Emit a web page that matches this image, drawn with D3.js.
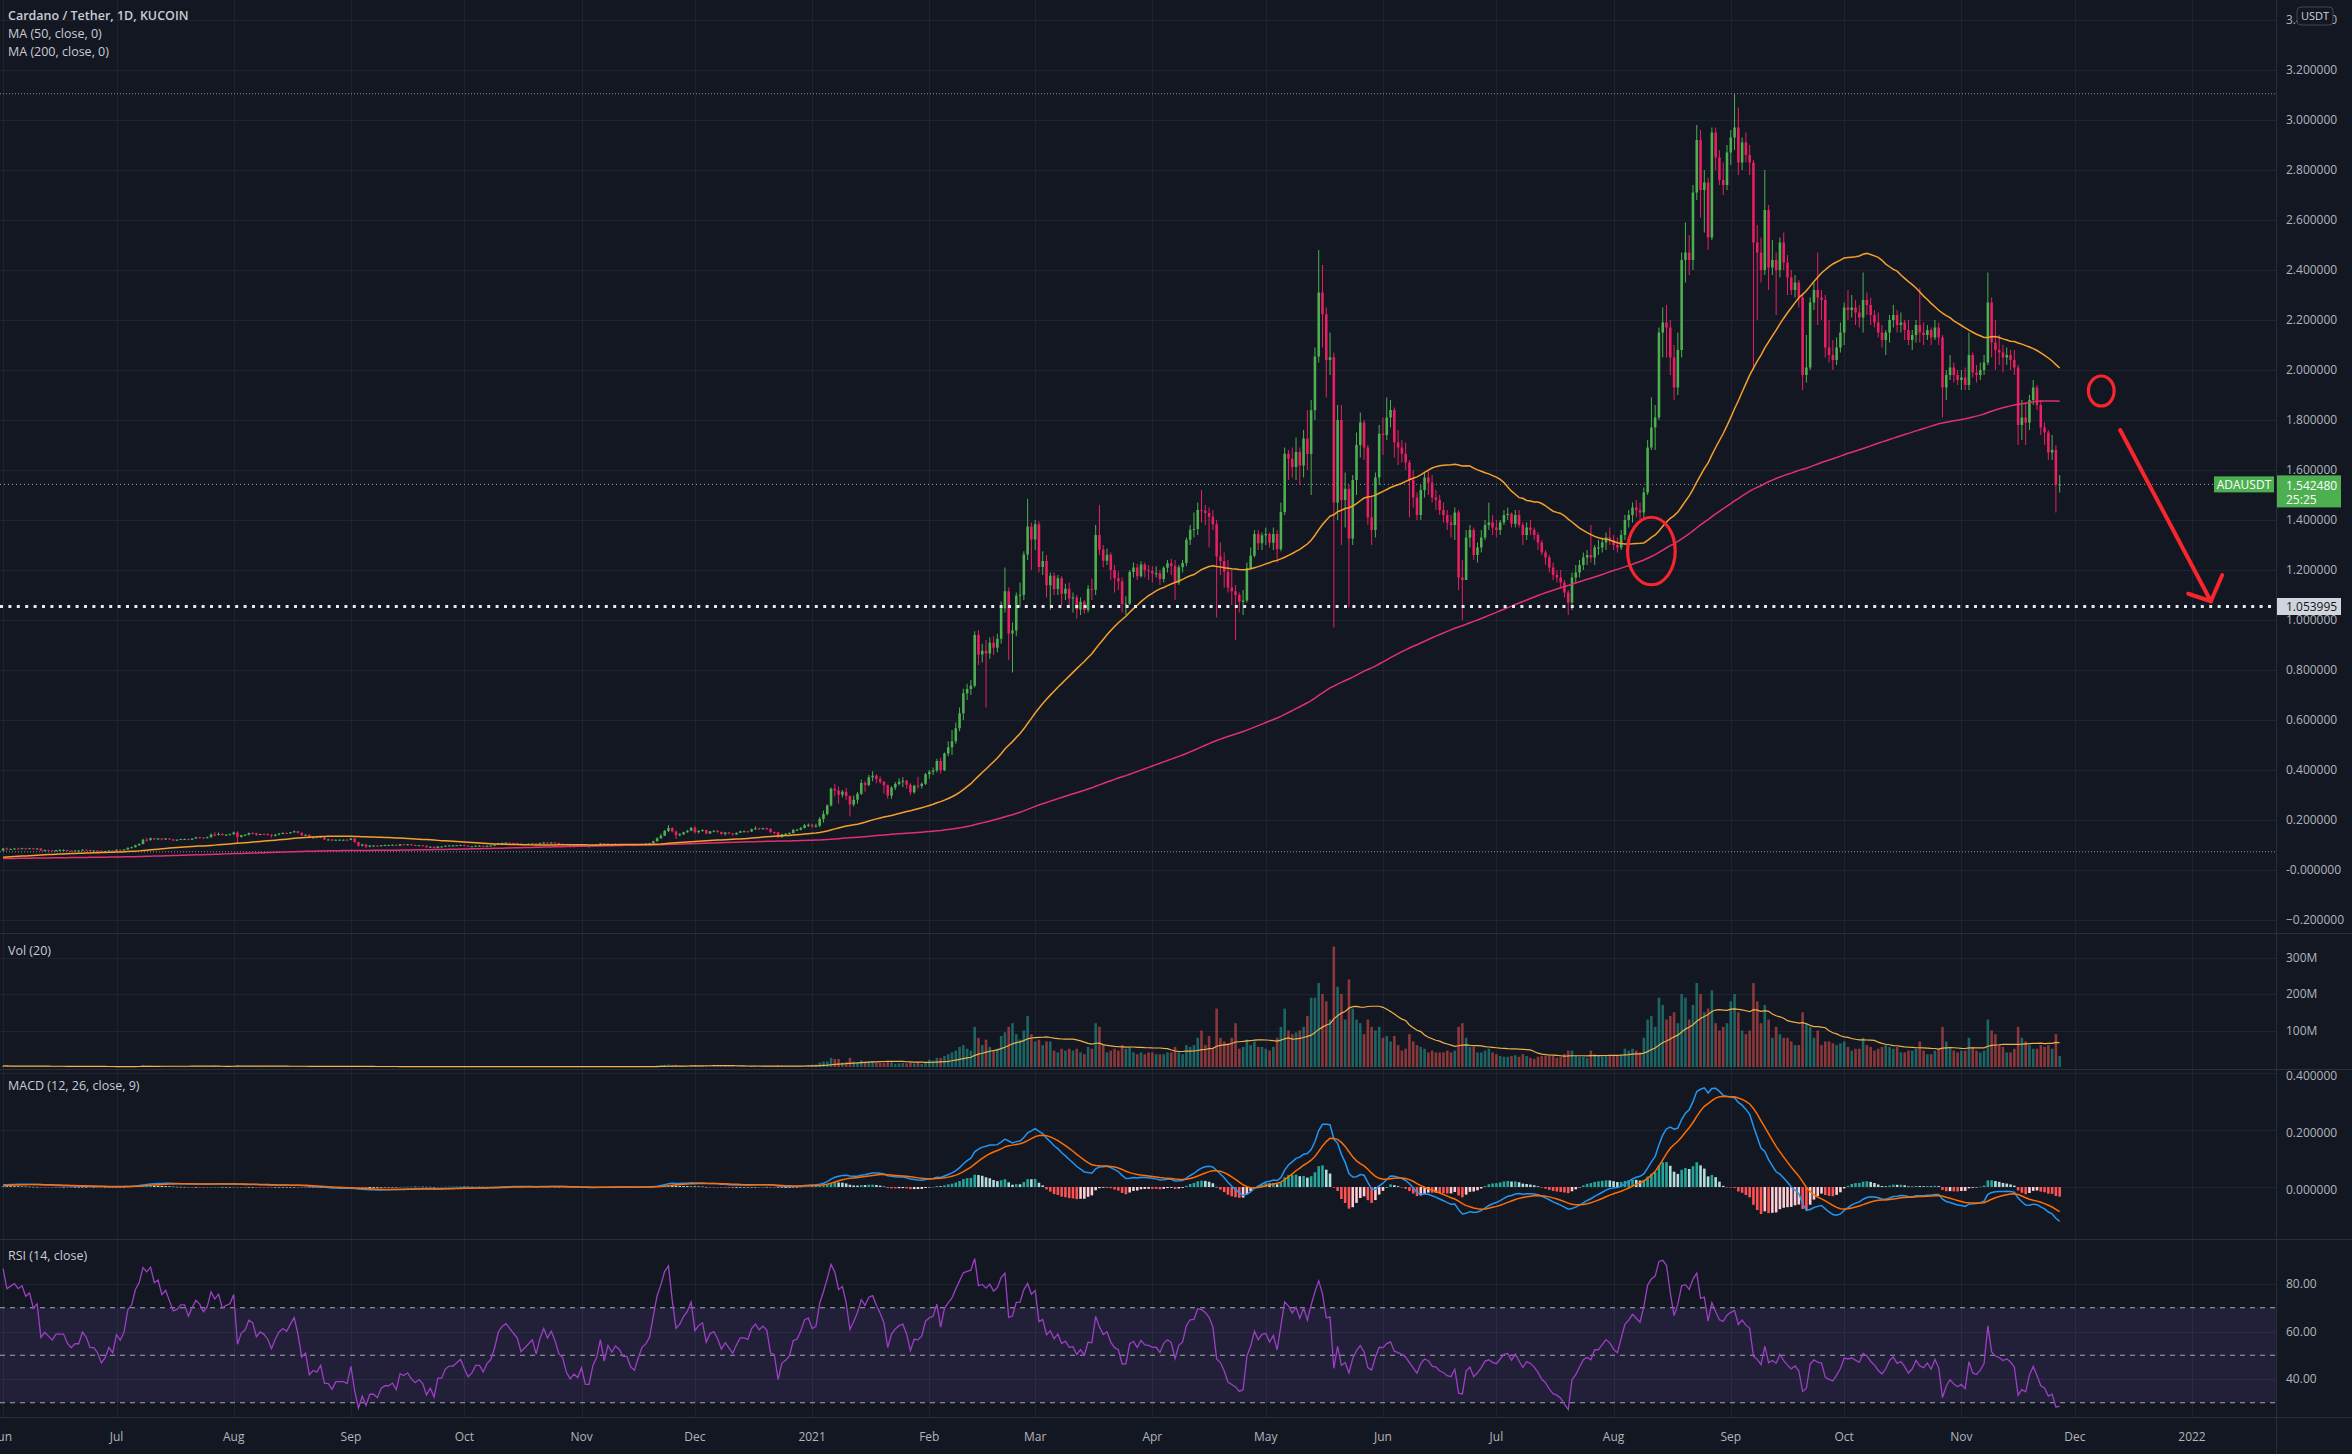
<!DOCTYPE html>
<html><head><meta charset="utf-8">
<script src="https://cdn.jsdelivr.net/npm/d3@7/dist/d3.min.js"></script>
<style>html,body{margin:0;padding:0;background:#131722;overflow:hidden}svg{display:block}</style>
</head><body>
<svg id="c" width="2352" height="1454"></svg>
<script>
// ---------------- DATA ----------------
const title = "Cardano / Tether, 1D, KUCOIN";
const ma50Label = "MA (50, close, 0)";
const ma200Label = "MA (200, close, 0)";
const volLabel = "Vol (20)";
const macdLabel = "MACD (12, 26, close, 9)";
const rsiLabel = "RSI (14, close)";
const symbolLabel = "ADAUSDT";
const countdown = "25:25";
const currency = "USDT";
const supportLevel = 1.053995;

// daily closes before the first drawn candle (warm-up for the moving averages), from 2019-11-14
const warmupStart = "2019-11-14";
const warmupCloses = [
0.044,0.043,0.043,0.043,0.042,0.041,0.041,0.040,0.037,0.038,0.036,0.037,0.037,0.038,0.039,0.038,0.038,
0.038,0.038,0.037,0.037,0.038,0.039,0.038,0.037,0.037,0.037,0.036,0.036,0.036,0.035,0.034,0.033,0.031,0.035,0.034,0.034,0.034,0.034,0.033,0.033,0.033,0.033,0.033,0.034,0.034,0.033,0.033,
0.034,0.033,0.035,0.035,0.035,0.037,0.038,0.037,0.038,0.040,0.040,0.041,0.042,0.046,0.045,0.044,0.047,0.048,0.046,0.045,0.046,0.046,0.044,0.045,0.045,0.046,0.049,0.052,0.053,0.055,0.053,
0.054,0.055,0.057,0.058,0.062,0.064,0.063,0.066,0.069,0.070,0.073,0.077,0.078,0.083,0.085,0.078,0.081,0.083,0.076,0.076,0.077,0.074,0.075,0.068,0.065,0.060,0.059,0.057,0.054,
0.056,0.055,0.055,0.053,0.054,0.055,0.052,0.046,0.046,0.045,0.042,0.027,0.031,0.030,0.028,0.026,0.028,0.028,0.033,0.031,0.031,0.028,0.031,0.032,0.031,0.032,0.031,0.030,0.028,0.030,0.030,
0.030,0.030,0.031,0.032,0.032,0.035,0.034,0.035,0.036,0.035,0.035,0.036,0.036,0.037,0.037,0.038,0.039,0.040,0.039,0.038,0.039,0.040,0.041,0.042,0.042,0.043,0.044,0.045,0.048,0.051,
0.052,0.051,0.052,0.052,0.053,0.055,0.055,0.053,0.052,0.049,0.049,0.050,0.051,0.053,0.052,0.051,0.051,0.053,0.055,0.054,0.053,0.054,0.053,0.053,0.054,0.055,0.058,0.065,0.071,0.079,0.077
];

// drawn daily candles from 2020-06-01: [close, high, low, volume in millions]
const candleStart = "2020-06-01";
const jun2020 = [
[0.086,0.088,0.077,3],[0.082,0.090,0.079,3],[0.084,0.086,0.080,2],[0.086,0.088,0.082,2],[0.085,0.089,0.083,2],
[0.087,0.089,0.084,2],[0.085,0.088,0.082,2],[0.087,0.089,0.084,2],[0.084,0.088,0.082,2],[0.086,0.087,0.082,2],
[0.078,0.087,0.075,3],[0.080,0.082,0.076,2],[0.079,0.081,0.077,1],[0.078,0.080,0.076,1],[0.080,0.081,0.073,2],
[0.080,0.083,0.078,2],[0.080,0.083,0.079,1],[0.078,0.081,0.077,1],[0.077,0.079,0.075,1],[0.078,0.079,0.076,1],
[0.078,0.080,0.077,1],[0.081,0.083,0.077,2],[0.080,0.082,0.079,1],[0.078,0.082,0.076,2],[0.078,0.079,0.075,1],
[0.077,0.079,0.076,1],[0.075,0.078,0.074,1],[0.076,0.077,0.074,1],[0.078,0.079,0.075,1],[0.077,0.079,0.076,1]];
const jul2020 = [
[0.081,0.083,0.076,1],[0.080,0.082,0.078,1],[0.082,0.084,0.079,1],[0.089,0.090,0.081,2],[0.091,0.094,0.087,2],
[0.099,0.101,0.090,3],[0.104,0.107,0.097,3],[0.121,0.125,0.103,5],[0.120,0.129,0.114,4],[0.127,0.130,0.117,4],
[0.123,0.128,0.120,2],[0.126,0.127,0.121,2],[0.122,0.128,0.119,2],[0.126,0.128,0.120,2],[0.123,0.127,0.121,2],
[0.120,0.124,0.115,2],[0.121,0.123,0.118,1],[0.124,0.125,0.120,1],[0.124,0.126,0.122,1],[0.121,0.125,0.119,1],
[0.126,0.127,0.120,2],[0.131,0.133,0.125,2],[0.130,0.133,0.127,2],[0.128,0.131,0.126,1],[0.131,0.134,0.127,2],
[0.142,0.146,0.130,3],[0.140,0.151,0.135,4],[0.144,0.150,0.138,3],[0.140,0.147,0.137,2],[0.142,0.143,0.136,2],
[0.143,0.146,0.139,2]];
const aug2020 = [
[0.150,0.154,0.141,3],[0.132,0.155,0.105,5],[0.139,0.141,0.130,2],[0.141,0.144,0.136,2],[0.148,0.150,0.139,2],
[0.147,0.151,0.143,2],[0.141,0.149,0.136,2],[0.144,0.145,0.139,1],[0.143,0.146,0.140,1],[0.141,0.147,0.139,2],
[0.137,0.143,0.130,2],[0.142,0.144,0.134,2],[0.146,0.148,0.139,2],[0.148,0.151,0.143,2],[0.147,0.150,0.144,1],
[0.151,0.152,0.145,2],[0.155,0.158,0.149,2],[0.149,0.157,0.146,2],[0.139,0.150,0.135,2],[0.141,0.143,0.137,1],
[0.129,0.142,0.127,2],[0.131,0.133,0.126,1],[0.130,0.133,0.128,1],[0.133,0.135,0.129,1],[0.122,0.134,0.120,2],
[0.122,0.125,0.119,1],[0.118,0.124,0.115,1],[0.121,0.122,0.116,1],[0.121,0.123,0.119,1],[0.121,0.122,0.118,1],
[0.120,0.123,0.118,1]];
const sep2020 = [
[0.126,0.128,0.119,2],[0.112,0.127,0.108,2],[0.097,0.113,0.093,3],[0.102,0.105,0.094,2],[0.093,0.103,0.088,2],
[0.098,0.099,0.091,1],[0.098,0.100,0.094,1],[0.095,0.099,0.092,1],[0.099,0.100,0.094,1],[0.100,0.102,0.097,1],
[0.100,0.101,0.097,1],[0.101,0.102,0.098,1],[0.097,0.102,0.096,1],[0.103,0.104,0.096,1],[0.102,0.105,0.100,1],
[0.103,0.104,0.099,1],[0.100,0.104,0.098,1],[0.098,0.101,0.097,1],[0.099,0.100,0.097,1],[0.097,0.100,0.095,1],
[0.091,0.098,0.089,1],[0.093,0.094,0.089,1],[0.088,0.094,0.086,1],[0.094,0.095,0.087,1],[0.094,0.096,0.092,1],
[0.097,0.098,0.093,1],[0.098,0.099,0.095,1],[0.098,0.101,0.096,1],[0.099,0.100,0.096,1],[0.100,0.101,0.098,1]];
const oct2020 = [
[0.097,0.101,0.095,1],[0.094,0.098,0.092,1],[0.095,0.096,0.093,1],[0.097,0.098,0.094,1],[0.097,0.099,0.095,1],
[0.095,0.098,0.093,1],[0.097,0.098,0.094,1],[0.098,0.099,0.095,1],[0.101,0.102,0.097,1],[0.106,0.108,0.100,1],
[0.108,0.110,0.105,1],[0.109,0.111,0.106,1],[0.108,0.110,0.106,1],[0.107,0.109,0.105,1],[0.106,0.108,0.104,1],
[0.103,0.107,0.101,1],[0.104,0.105,0.102,1],[0.105,0.106,0.103,1],[0.106,0.107,0.104,1],[0.103,0.107,0.101,1],
[0.107,0.110,0.102,1],[0.110,0.112,0.106,1],[0.108,0.111,0.106,1],[0.110,0.111,0.107,1],[0.108,0.111,0.106,1],
[0.105,0.109,0.103,1],[0.104,0.106,0.102,1],[0.100,0.105,0.098,1],[0.098,0.101,0.095,1],[0.099,0.100,0.096,1],
[0.098,0.100,0.097,1]];
const nov2020 = [
[0.100,0.101,0.097,1],[0.095,0.101,0.093,1],[0.095,0.097,0.093,1],[0.099,0.100,0.094,1],[0.101,0.103,0.098,1],
[0.106,0.108,0.100,2],[0.100,0.107,0.098,1],[0.105,0.106,0.099,1],[0.103,0.106,0.101,1],[0.105,0.106,0.102,1],
[0.104,0.107,0.103,1],[0.102,0.105,0.100,1],[0.102,0.104,0.100,1],[0.099,0.103,0.098,1],[0.098,0.100,0.097,1],
[0.101,0.103,0.097,1],[0.104,0.105,0.100,1],[0.105,0.108,0.101,2],[0.107,0.109,0.104,1],[0.115,0.117,0.106,2],
[0.127,0.131,0.114,4],[0.137,0.145,0.125,5],[0.156,0.160,0.136,6],[0.168,0.180,0.152,7],[0.154,0.171,0.150,5],
[0.139,0.158,0.124,6],[0.143,0.148,0.135,3],[0.151,0.153,0.140,3],[0.157,0.160,0.149,3],[0.169,0.172,0.155,4]];
const dec2020 = [
[0.151,0.175,0.145,5],[0.157,0.159,0.146,3],[0.160,0.163,0.153,3],[0.146,0.161,0.143,3],[0.155,0.156,0.144,2],
[0.157,0.159,0.151,2],[0.152,0.158,0.149,2],[0.144,0.154,0.141,2],[0.150,0.151,0.138,3],[0.146,0.151,0.143,2],
[0.142,0.147,0.138,2],[0.149,0.150,0.141,2],[0.155,0.157,0.148,2],[0.155,0.158,0.151,2],[0.154,0.157,0.150,2],
[0.163,0.166,0.152,3],[0.167,0.175,0.160,4],[0.164,0.169,0.159,3],[0.167,0.169,0.162,2],[0.165,0.170,0.160,2],
[0.152,0.167,0.148,3],[0.151,0.154,0.143,3],[0.132,0.152,0.128,5],[0.143,0.145,0.129,3],[0.145,0.148,0.140,2],
[0.148,0.151,0.142,2],[0.160,0.165,0.146,3],[0.161,0.165,0.156,3],[0.168,0.172,0.158,3],[0.179,0.184,0.166,4],
[0.181,0.186,0.172,4]];
const jan2021 = [
[0.175,0.185,0.168,6],[0.177,0.185,0.170,7],[0.204,0.212,0.172,12],[0.224,0.238,0.190,15],[0.258,0.263,0.218,15],
[0.325,0.330,0.254,25],[0.318,0.344,0.294,22],[0.301,0.334,0.265,22],[0.313,0.320,0.290,12],[0.296,0.329,0.280,14],
[0.262,0.298,0.215,25],[0.281,0.298,0.254,15],[0.305,0.312,0.265,13],[0.348,0.362,0.300,18],[0.340,0.356,0.313,14],
[0.371,0.380,0.335,15],[0.377,0.395,0.355,16],[0.364,0.383,0.347,12],[0.353,0.374,0.345,11],[0.339,0.355,0.305,12],
[0.297,0.342,0.285,15],[0.330,0.335,0.285,13],[0.344,0.352,0.320,9],[0.353,0.367,0.338,10],[0.357,0.371,0.331,11],
[0.341,0.360,0.325,10],[0.311,0.347,0.300,12],[0.337,0.341,0.305,10],[0.336,0.373,0.325,14],[0.345,0.350,0.326,8],
[0.383,0.388,0.340,13]];
const feb2021 = [
[0.393,0.400,0.365,20],[0.398,0.410,0.380,18],[0.436,0.445,0.390,25],[0.399,0.449,0.385,25],[0.466,0.470,0.395,30],
[0.491,0.515,0.455,35],[0.515,0.560,0.460,40],[0.567,0.590,0.505,45],[0.627,0.650,0.555,55],[0.707,0.725,0.600,60],
[0.724,0.745,0.680,50],[0.737,0.760,0.700,45],[0.940,0.955,0.730,110],[0.862,0.960,0.820,80],[0.877,0.905,0.830,60],
[0.866,0.920,0.650,75],[0.909,0.930,0.845,55],[0.889,0.935,0.860,45],[0.925,0.945,0.870,50],[1.047,1.075,0.905,85],
[1.115,1.210,1.030,95],[0.946,1.130,0.840,110],[0.958,0.990,0.790,120],[1.097,1.110,0.935,90],[1.101,1.150,1.050,75],
[1.262,1.275,1.080,100],[1.374,1.485,1.240,140],[1.322,1.390,1.200,90]];
const mar2021 = [
[1.383,1.400,1.280,70],[1.212,1.395,1.190,75],[1.236,1.275,1.180,60],[1.139,1.260,1.090,70],[1.177,1.190,1.040,70],
[1.124,1.190,1.100,45],[1.167,1.180,1.100,40],[1.105,1.175,1.060,50],[1.125,1.145,1.080,45],[1.086,1.150,1.060,50],
[1.090,1.110,1.030,45],[1.042,1.100,1.005,50],[1.073,1.090,1.020,40],[1.040,1.080,1.025,35],[1.125,1.140,1.030,55],
[1.121,1.165,1.080,50],[1.340,1.380,1.100,120],[1.282,1.460,1.260,110],[1.237,1.300,1.210,60],[1.261,1.285,1.220,40],
[1.200,1.270,1.160,45],[1.167,1.220,1.110,50],[1.155,1.195,1.120,45],[1.064,1.170,1.030,60],[1.065,1.095,1.020,50],
[1.192,1.200,1.060,55],[1.210,1.230,1.170,40],[1.175,1.225,1.160,35],[1.222,1.235,1.170,40],[1.199,1.230,1.170,35],
[1.196,1.220,1.160,40]];
const apr2021 = [
[1.186,1.215,1.150,40],[1.187,1.215,1.170,35],[1.164,1.200,1.140,35],[1.209,1.215,1.150,35],[1.227,1.240,1.190,40],
[1.216,1.245,1.180,40],[1.149,1.240,1.080,55],[1.211,1.220,1.140,40],[1.228,1.240,1.190,35],[1.321,1.330,1.215,60],
[1.361,1.380,1.300,55],[1.364,1.430,1.330,60],[1.440,1.470,1.340,80],[1.437,1.520,1.390,100],[1.428,1.460,1.380,60],
[1.413,1.450,1.290,85],[1.383,1.440,1.360,50],[1.254,1.400,1.010,160],[1.236,1.310,1.180,80],[1.193,1.270,1.130,70],
[1.130,1.240,1.110,65],[1.115,1.200,1.060,80],[1.100,1.140,0.920,120],[1.073,1.110,1.030,50],[1.078,1.120,1.020,55],
[1.207,1.230,1.070,75],[1.257,1.290,1.200,60],[1.344,1.360,1.250,70],[1.307,1.360,1.280,55],[1.339,1.350,1.280,55]];
const may2021 = [
[1.344,1.370,1.300,50],[1.309,1.350,1.290,45],[1.344,1.370,1.280,55],[1.283,1.360,1.230,80],[1.432,1.470,1.275,110],
[1.665,1.690,1.420,160],[1.645,1.680,1.560,100],[1.612,1.690,1.570,90],[1.672,1.730,1.560,95],[1.618,1.690,1.540,100],
[1.726,1.760,1.570,110],[1.664,1.840,1.600,140],[1.839,1.880,1.500,190],[2.054,2.090,1.800,190],[2.310,2.480,2.030,230],
[2.223,2.420,2.090,200],[2.040,2.250,1.890,180],[2.051,2.150,1.980,130],[1.470,2.070,0.970,330],[1.800,1.860,1.400,220],
[1.480,1.860,1.300,200],[1.525,1.590,1.370,130],[1.326,1.540,1.050,240],[1.560,1.580,1.300,160],[1.700,1.750,1.500,130],
[1.790,1.830,1.650,120],[1.690,1.800,1.640,90],[1.410,1.700,1.380,130],[1.360,1.500,1.300,110],[1.570,1.590,1.330,100],
[1.745,1.780,1.540,110]];
const jun2021 = [
[1.740,1.810,1.660,80],[1.810,1.890,1.720,85],[1.840,1.880,1.770,70],[1.710,1.850,1.650,85],[1.690,1.760,1.620,60],
[1.665,1.720,1.630,45],[1.630,1.710,1.600,50],[1.560,1.640,1.410,90],[1.490,1.600,1.450,70],[1.420,1.510,1.400,60],
[1.520,1.540,1.400,55],[1.570,1.590,1.490,50],[1.550,1.600,1.500,40],[1.490,1.580,1.470,45],[1.480,1.520,1.440,40],
[1.440,1.500,1.420,40],[1.420,1.470,1.390,40],[1.390,1.440,1.360,45],[1.380,1.420,1.330,40],[1.430,1.450,1.320,45],
[1.170,1.440,1.120,110],[1.160,1.240,1.000,120],[1.330,1.360,1.160,80],[1.360,1.380,1.290,55],[1.260,1.370,1.240,55],
[1.290,1.310,1.230,40],[1.330,1.360,1.270,40],[1.380,1.400,1.320,45],[1.390,1.470,1.360,50],[1.370,1.420,1.340,40]];
const jul2021 = [
[1.360,1.400,1.330,35],[1.390,1.400,1.340,30],[1.420,1.440,1.380,28],[1.425,1.450,1.400,28],[1.385,1.430,1.370,30],
[1.420,1.440,1.370,32],[1.380,1.440,1.370,28],[1.340,1.390,1.300,35],[1.370,1.390,1.320,30],[1.360,1.400,1.340,25],
[1.340,1.370,1.320,22],[1.310,1.350,1.280,28],[1.270,1.320,1.260,30],[1.250,1.280,1.220,30],[1.210,1.260,1.190,32],
[1.180,1.230,1.160,30],[1.170,1.200,1.150,25],[1.150,1.200,1.130,28],[1.110,1.160,1.090,35],[1.070,1.120,1.020,45],
[1.170,1.190,1.040,45],[1.190,1.220,1.150,30],[1.220,1.240,1.170,28],[1.250,1.270,1.200,28],[1.260,1.280,1.220,25],
[1.250,1.380,1.230,45],[1.290,1.300,1.220,35],[1.290,1.320,1.260,30],[1.310,1.330,1.270,28],[1.330,1.350,1.280,30],
[1.320,1.370,1.300,30]];
const aug2021 = [
[1.300,1.340,1.280,30],[1.290,1.330,1.270,30],[1.340,1.360,1.280,35],[1.400,1.420,1.320,50],[1.420,1.440,1.370,45],
[1.450,1.470,1.390,50],[1.440,1.480,1.410,45],[1.430,1.470,1.400,40],[1.510,1.530,1.400,80],[1.690,1.720,1.500,130],
[1.770,1.890,1.680,140],[1.810,1.860,1.680,110],[2.150,2.170,1.800,190],[2.190,2.250,2.050,170],[2.170,2.260,2.050,130],
[2.050,2.200,1.980,140],[1.930,2.100,1.880,150],[2.080,2.150,1.900,120],[2.440,2.470,2.050,200],[2.470,2.590,2.350,190],
[2.440,2.540,2.380,130],[2.710,2.740,2.400,170],[2.920,2.980,2.680,230],[2.720,2.960,2.610,200],[2.750,2.800,2.550,150],
[2.530,2.770,2.480,160],[2.950,2.970,2.520,210],[2.850,2.970,2.800,120],[2.760,2.880,2.740,100],[2.740,2.830,2.700,110],
[2.870,2.900,2.720,120]];
const sep2021 = [
[2.930,2.960,2.820,180],[2.970,3.105,2.880,200],[2.830,3.050,2.780,150],[2.910,2.930,2.800,100],[2.860,2.950,2.830,90],
[2.830,2.900,2.780,100],[2.510,2.840,2.000,230],[2.470,2.580,2.200,180],[2.400,2.530,2.350,120],[2.640,2.800,2.380,170],
[2.410,2.660,2.320,130],[2.440,2.520,2.380,80],[2.400,2.470,2.220,110],[2.510,2.530,2.370,90],[2.430,2.550,2.400,80],
[2.370,2.460,2.300,80],[2.320,2.400,2.300,70],[2.350,2.380,2.290,60],[2.290,2.360,2.250,60],[1.980,2.300,1.920,150],
[2.010,2.140,1.950,120],[2.270,2.290,2.000,110],[2.320,2.350,2.240,80],[2.290,2.470,2.180,100],[2.280,2.320,2.200,60],
[2.090,2.300,2.050,70],[2.060,2.200,2.030,70],[2.040,2.120,2.000,65],[2.090,2.130,2.020,60],[2.150,2.190,2.070,65]];
const oct2021 = [
[2.250,2.270,2.100,70],[2.240,2.320,2.200,55],[2.250,2.300,2.210,45],[2.230,2.280,2.180,50],[2.210,2.260,2.170,50],
[2.280,2.390,2.150,80],[2.260,2.310,2.220,60],[2.220,2.290,2.180,55],[2.190,2.240,2.170,45],[2.150,2.230,2.130,50],
[2.120,2.180,2.090,55],[2.150,2.160,2.060,60],[2.200,2.220,2.110,55],[2.220,2.260,2.170,50],[2.180,2.240,2.150,55],
[2.190,2.230,2.150,40],[2.160,2.200,2.120,40],[2.120,2.200,2.100,45],[2.140,2.160,2.080,45],[2.180,2.200,2.110,50],
[2.150,2.330,2.110,70],[2.140,2.190,2.100,45],[2.160,2.180,2.120,35],[2.130,2.170,2.100,35],[2.170,2.200,2.120,45],
[2.130,2.190,2.100,50],[1.930,2.140,1.810,110],[1.980,2.000,1.880,70],[2.010,2.060,1.960,55],[1.980,2.030,1.950,45],
[1.960,2.000,1.940,40]];
const nov2021 = [
[1.970,2.000,1.920,45],[1.940,2.010,1.920,45],[2.060,2.150,1.920,80],[1.990,2.070,1.970,55],[1.980,2.020,1.950,45],
[2.000,2.030,1.960,40],[2.030,2.060,1.980,45],[2.270,2.390,2.020,130],[2.110,2.290,2.050,100],[2.080,2.200,2.000,90],
[2.070,2.140,2.020,60],[2.050,2.100,1.990,55],[2.060,2.090,2.020,40],[2.040,2.080,2.000,40],[2.010,2.080,1.980,50],
[1.780,2.020,1.700,110],[1.810,1.880,1.720,80],[1.790,1.870,1.700,70],[1.880,1.900,1.760,60],[1.930,1.960,1.860,50],
[1.860,1.940,1.840,50],[1.770,1.880,1.740,60],[1.750,1.790,1.700,55],[1.670,1.760,1.640,60],[1.680,1.740,1.640,50],
[1.540,1.700,1.430,90],[1.54248,1.580,1.510,30]];

const priceTicks = [-0.2,0,0.2,0.4,0.6,0.8,1.0,1.2,1.4,1.6,1.8,2.0,2.2,2.4,2.6,2.8,3.0,3.2,3.4];
const zeroPriceLabel = "-0.000000";
const volTicks = [100,200,300];
const volTickLabels = ["100M","200M","300M"];
const macdTicks = [0,0.2,0.4];
const rsiTicks = [40,60,80];
const rsiBands = [30,50,70];

// hand-drawn annotations (date, price)
const circleBig = {date:"2021-08-11", price:1.276, rxDays:6.3, ryPrice:0.135};
const circleSmall = {date:"2021-12-08", price:1.916, rxDays:3.4, ryPrice:0.06};
const arrowLine = {from:["2021-12-13",1.76], to:["2022-01-06",1.075]};
const arrowWings = [["2021-12-31",1.105],["2022-01-09",1.18]];

// ---------------- LAYOUT ----------------
const W = 2352, H = 1454, plotR = 2276;
const P = {main:[0,933], vol:[933,1069], macd:[1069,1239], rsi:[1239,1417]};
const BG = "#131722", GRID = "#1f2330", SEP = "#2a2e39", TXT = "#b2b5be";
const UP = "#4caf50", DOWN = "#e91e63";
const FONT = "'Open Sans', 'DejaVu Sans', sans-serif";

const parse = d3.utcParse("%Y-%m-%d");
const months = [jun2020,jul2020,aug2020,sep2020,oct2020,nov2020,dec2020,jan2021,feb2021,mar2021,apr2021,may2021,jun2021,jul2021,aug2021,sep2021,oct2021,nov2021];
const rows = months.flat();
const t0 = parse(candleStart);
const allCloses = warmupCloses.concat(rows.map(r=>r[0]));
const off = warmupCloses.length;
const data = rows.map((r,i)=>{
  const o = allCloses[off+i-1];
  return {date:d3.utcDay.offset(t0,i), o, c:r[0], h:Math.max(r[1],o,r[0]), l:Math.min(r[2],o,r[0]), v:r[3]};
});

// indicators
function sma(arr,n){return arr.map((_,i)=> i<n-1?null:d3.mean(arr.slice(i-n+1,i+1)));}
function ema(arr,n){const k=2/(n+1);let e=null;return arr.map(v=>{e=(e==null)?v:v*k+e*(1-k);return e;});}
const ma50 = sma(allCloses,50).slice(off);
const ma200 = sma(allCloses,200).slice(off);
const e12 = ema(allCloses,12), e26 = ema(allCloses,26);
const macdAll = e12.map((v,i)=>v-e26[i]);
const sigAll = ema(macdAll,9);
const macd = macdAll.slice(off), sig = sigAll.slice(off);
const hist = macd.map((v,i)=>v-sig[i]);
// RSI (Wilder)
const rsiAll = (()=>{const n=14;let ag=0,al=0;const out=[null];
  for(let i=1;i<allCloses.length;i++){const ch=allCloses[i]-allCloses[i-1];const g=Math.max(ch,0),l=Math.max(-ch,0);
    if(i<=n){ag+=g/n;al+=l/n;out.push(i==n?100-100/(1+ag/(al||1e-9)):null);}
    else{ag=(ag*(n-1)+g)/n;al=(al*(n-1)+l)/n;out.push(100-100/(1+ag/(al||1e-9)));}}
  return out;})();
const rsi = rsiAll.slice(off);
const vols = data.map(d=>d.v);
const volMA = vols.map((_,i)=>d3.mean(vols.slice(Math.max(0,i-19),i+1)));

// scales
const x = d3.scaleUtc().domain([parse("2020-06-01"),parse("2022-01-01")]).range([3.1,2192]);
const dayW = x(parse("2021-01-02"))-x(parse("2021-01-01"));
const bw = dayW*0.68;
const y = d3.scaleLinear().domain([0,3.4]).range([870,20]);
const yv = d3.scaleLinear().domain([0,300]).range([1067,957.5]);
const ym = d3.scaleLinear().domain([0,0.2]).range([1187,1130]);
const yr = d3.scaleLinear().domain([40,80]).range([1379,1284]);

const svg = d3.select("#c").style("font-family",FONT);
svg.append("rect").attr("width",W).attr("height",H).attr("fill",BG);
const defs = svg.append("defs");
Object.entries(P).forEach(([k,[a,b]])=>{
  defs.append("clipPath").attr("id","clip-"+k).append("rect").attr("x",0).attr("y",a).attr("width",plotR).attr("height",b-a);
  defs.append("clipPath").attr("id","aclip-"+k).append("rect").attr("x",plotR).attr("y",a).attr("width",W-plotR).attr("height",b-a);
});

// grid
const monthTicks = d3.utcMonth.range(parse("2020-06-01"), parse("2022-01-02"));
const grid = svg.append("g").attr("stroke",GRID).attr("stroke-width",1);
monthTicks.forEach(t=>grid.append("line").attr("x1",Math.round(x(t))+0.5).attr("x2",Math.round(x(t))+0.5).attr("y1",0).attr("y2",P.rsi[1]));
const hgrid=(ticks,sc,pane)=>{const g=grid.append("g").attr("clip-path",`url(#clip-${pane})`);
  ticks.forEach(t=>g.append("line").attr("x1",0).attr("x2",plotR).attr("y1",Math.round(sc(t))+0.5).attr("y2",Math.round(sc(t))+0.5));};
hgrid(priceTicks,y,"main"); hgrid(volTicks,yv,"vol"); hgrid(macdTicks,ym,"macd"); hgrid(rsiTicks,yr,"rsi");

// ----- main pane -----
const gm = svg.append("g").attr("clip-path","url(#clip-main)");
const visHigh = d3.max(data,d=>d.h), visLow = d3.min(data,d=>d.l);
gm.append("line").attr("x1",0).attr("x2",plotR).attr("y1",y(visHigh)).attr("y2",y(visHigh)).attr("stroke","#8a8d96").attr("stroke-dasharray","1,2").attr("stroke-width",1);
gm.append("line").attr("x1",0).attr("x2",plotR).attr("y1",y(visLow)).attr("y2",y(visLow)).attr("stroke","#8a8d96").attr("stroke-dasharray","1,2").attr("stroke-width",1);
const last = data[data.length-1];
gm.append("line").attr("x1",0).attr("x2",plotR).attr("y1",y(last.c)).attr("y2",y(last.c)).attr("stroke","#9598a1").attr("stroke-dasharray","1,3").attr("stroke-width",1);

const cg = gm.append("g");
cg.selectAll("line.w").data(data).join("line").attr("class","w")
  .attr("x1",d=>x(d.date)).attr("x2",d=>x(d.date)).attr("y1",d=>y(d.h)).attr("y2",d=>y(d.l))
  .attr("stroke",d=>d.c>=d.o?UP:DOWN).attr("stroke-width",1);
cg.selectAll("rect").data(data).join("rect")
  .attr("x",d=>x(d.date)-bw/2).attr("width",bw)
  .attr("y",d=>y(Math.max(d.o,d.c))).attr("height",d=>Math.max(1,Math.abs(y(d.o)-y(d.c))))
  .attr("fill",d=>d.c>=d.o?UP:DOWN);

const lineOf=(vals,sc)=>d3.line().defined((v)=>v!=null).x((v,i)=>x(data[i].date)).y(v=>sc(v));
gm.append("path").attr("d",lineOf(ma200,y)(ma200)).attr("fill","none").attr("stroke","#e0306f").attr("stroke-width",1.5);
gm.append("path").attr("d",lineOf(ma50,y)(ma50)).attr("fill","none").attr("stroke","#f5a02a").attr("stroke-width",1.5);

// support dotted line
gm.append("line").attr("x1",0).attr("x2",plotR).attr("y1",y(supportLevel)).attr("y2",y(supportLevel))
  .attr("stroke","#e6e8ee").attr("stroke-width",3).attr("stroke-dasharray","3,5.4");

// annotations
const RED = "#f7262e";
const ann = gm.append("g").attr("fill","none").attr("stroke",RED).attr("stroke-linecap","round");
const ell=(c,w)=>{const cx=x(parse(c.date)), cy=y(c.price);
  const rx = dayW*c.rxDays, ry = Math.abs(y(c.price+c.ryPrice)-cy);
  ann.append("ellipse").attr("cx",cx).attr("cy",cy).attr("rx",rx).attr("ry",ry).attr("stroke-width",w);};
ell(circleBig,3.2); ell(circleSmall,3.2);
const pt = p=>[x(parse(p[0])),y(p[1])];
const a0=pt(arrowLine.from), a1=pt(arrowLine.to);
ann.append("path").attr("d",d3.line()([a0,a1])).attr("stroke-width",4);
arrowWings.forEach(w=>ann.append("path").attr("d",d3.line()([pt(w),a1])).attr("stroke-width",4));

// ----- volume pane -----
const gv = svg.append("g").attr("clip-path","url(#clip-vol)");
gv.selectAll("rect").data(data).join("rect")
  .attr("x",d=>x(d.date)-bw/2).attr("width",bw)
  .attr("y",d=>yv(d.v)).attr("height",d=>Math.max(0.5,yv(0)-yv(d.v)))
  .attr("fill",d=>d.c>=d.o?"rgba(38,166,154,0.55)":"rgba(239,83,80,0.55)");
gv.append("path").attr("d",lineOf(volMA,yv)(volMA)).attr("fill","none").attr("stroke","#f0b04a").attr("stroke-width",1.2);

// ----- MACD pane -----
const gc = svg.append("g").attr("clip-path","url(#clip-macd)");
gc.selectAll("rect").data(hist).join("rect")
  .attr("x",(h,i)=>x(data[i].date)-bw/2).attr("width",bw)
  .attr("y",h=>Math.min(ym(h),ym(0))).attr("height",h=>Math.max(0.5,Math.abs(ym(h)-ym(0))))
  .attr("fill",(h,i)=>{const p=i>0?hist[i-1]:h; return h>=0?(h>=p?"#26a69a":"#b2dfdb"):(h<p?"#ff5252":"#ffcdd2");});
gc.append("path").attr("d",lineOf(macd,ym)(macd)).attr("fill","none").attr("stroke","#2196f3").attr("stroke-width",1.5);
gc.append("path").attr("d",lineOf(sig,ym)(sig)).attr("fill","none").attr("stroke","#ff6d00").attr("stroke-width",1.5);

// ----- RSI pane -----
const gr = svg.append("g").attr("clip-path","url(#clip-rsi)");
gr.append("rect").attr("x",0).attr("width",plotR).attr("y",yr(70)).attr("height",yr(30)-yr(70)).attr("fill","rgba(126,87,194,0.14)");
rsiBands.forEach(b=>gr.append("line").attr("x1",0).attr("x2",plotR).attr("y1",yr(b)).attr("y2",yr(b))
  .attr("stroke","#a7a9b2").attr("stroke-dasharray","5,5").attr("stroke-width",1));
gr.append("path").attr("d",lineOf(rsi,yr)(rsi)).attr("fill","none").attr("stroke","#9c3fc4").attr("stroke-width",1.3);

// separators
const sepG = svg.append("g").attr("stroke",SEP).attr("stroke-width",1);
[P.vol[0],P.macd[0],P.rsi[0],P.rsi[1]].forEach(v=>sepG.append("line").attr("x1",0).attr("x2",W).attr("y1",v+0.5).attr("y2",v+0.5));
sepG.append("line").attr("x1",plotR+0.5).attr("x2",plotR+0.5).attr("y1",0).attr("y2",H);

// right axes
const fmt6 = d3.format(".6f");
const axText=(g,txt,yy)=>g.append("text").attr("x",2286).attr("y",yy).attr("dy","0.35em").attr("fill",TXT).attr("font-size",12).text(txt);
const am = svg.append("g").attr("clip-path","url(#aclip-main)");
priceTicks.forEach(t=>axText(am, t===0?zeroPriceLabel:fmt6(t), y(t)));
const av = svg.append("g").attr("clip-path","url(#aclip-vol)");
volTicks.forEach((t,i)=>axText(av, volTickLabels[i], yv(t)));
const ac = svg.append("g").attr("clip-path","url(#aclip-macd)");
macdTicks.forEach(t=>axText(ac, fmt6(t), ym(t)+3));
const ar = svg.append("g").attr("clip-path","url(#aclip-rsi)");
rsiTicks.forEach(t=>axText(ar, d3.format(".2f")(t), yr(t)));

// time axis
const ta = svg.append("g");
monthTicks.forEach(t=>{
  const lab = t.getUTCMonth()===0 ? d3.utcFormat("%Y")(t) : d3.utcFormat("%b")(t);
  ta.append("text").attr("x",x(t)).attr("y",1437).attr("dy","0.35em").attr("text-anchor","middle")
    .attr("fill",TXT).attr("font-size",12).text(lab);
});

// legends
const lg = svg.append("g").attr("fill","#c9ccd4").attr("font-size",12.5);
lg.append("text").attr("x",8).attr("y",16).attr("dy","0.35em").attr("font-weight",600).text(title);
lg.append("text").attr("x",8).attr("y",34).attr("dy","0.35em").text(ma50Label);
lg.append("text").attr("x",8).attr("y",52).attr("dy","0.35em").text(ma200Label);
lg.append("text").attr("x",8).attr("y",P.vol[0]+18).attr("dy","0.35em").text(volLabel);
lg.append("text").attr("x",8).attr("y",P.macd[0]+17).attr("dy","0.35em").text(macdLabel);
lg.append("text").attr("x",8).attr("y",P.rsi[0]+17).attr("dy","0.35em").text(rsiLabel);

// price labels
const yl = y(last.c);
svg.append("rect").attr("x",2214).attr("y",yl-8).attr("width",60).attr("height",16).attr("fill","#4caf50");
svg.append("text").attr("x",2244).attr("y",yl).attr("dy","0.35em").attr("text-anchor","middle").attr("fill","#ffffff").attr("font-size",12).text(symbolLabel);
svg.append("rect").attr("x",plotR+1).attr("y",yl-9).attr("width",64).attr("height",32).attr("fill","#4caf50");
svg.append("text").attr("x",2286).attr("y",yl+1).attr("dy","0.35em").attr("fill","#ffffff").attr("font-size",12).text(d3.format(".6f")(last.c));
svg.append("text").attr("x",2286).attr("y",yl+15).attr("dy","0.35em").attr("fill","#ffffff").attr("font-size",12).text(countdown);
const ys = y(supportLevel);
svg.append("rect").attr("x",plotR+1).attr("y",ys-8.5).attr("width",64).attr("height",17).attr("fill","#d1d4dc");
svg.append("text").attr("x",2286).attr("y",ys).attr("dy","0.35em").attr("fill","#131722").attr("font-size",12).text(d3.format(".6f")(supportLevel));

// currency button
svg.append("rect").attr("x",2297).attr("y",7).attr("width",36).attr("height",18).attr("rx",4).attr("fill",BG).attr("stroke","#434651");
svg.append("text").attr("x",2315).attr("y",16).attr("dy","0.35em").attr("text-anchor","middle").attr("fill","#d1d4dc").attr("font-size",11).text(currency);
</script>
</body></html>
